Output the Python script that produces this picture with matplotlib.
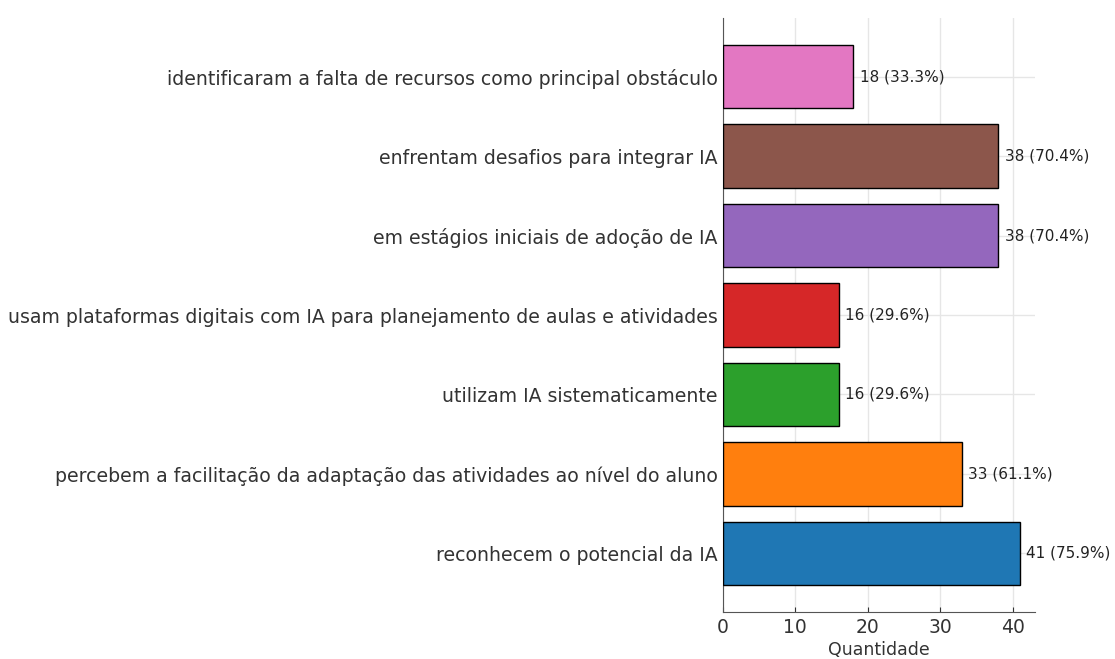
import matplotlib.pyplot as plt
import numpy as np

# Data
categorias = [
    "reconhecem o potencial da IA",
    "percebem a facilitação da adaptação das atividades ao nível do aluno",
    "utilizam IA sistematicamente",
    "usam plataformas digitais com IA para planejamento de aulas e atividades",
    "em estágios iniciais de adoção de IA",
    "enfrentam desafios para integrar IA",
    "identificaram a falta de recursos como principal obstáculo",
]
quantidades = [41, 33, 16, 16, 38, 38, 18]
percentuais = [75.9, 61.1, 29.6, 29.6, 70.4, 70.4, 33.3]
cores = ["#1f77b4", "#ff7f0e", "#2ca02c", "#d62728", "#9467bd", "#8c564b", "#e377c2"]

fig = plt.figure(figsize=(11.15, 6.59), dpi=100)
ax = fig.add_axes([0.648, 0.071, 0.28, 0.902])

y = np.arange(len(categorias))
ax.barh(y, quantidades, color=cores, edgecolor="black", linewidth=1, height=0.8, zorder=3)

for yi, q, p in zip(y, quantidades, percentuais):
    ax.text(q + 0.9, yi, f"{q} ({p}%)", va="center", ha="left", fontsize=11, color="#222222")

ax.set_yticks(y)
ax.set_yticklabels(categorias, fontsize=13.6, color="#333333")
ax.set_xticks([0, 10, 20, 30, 40])
ax.tick_params(axis="x", labelsize=13.5, colors="#333333", direction="in", pad=4)
ax.tick_params(axis="y", direction="in")
ax.set_xlabel("Quantidade", fontsize=12.5, color="#333333", labelpad=3)

ax.grid(True, color="#e6e6e6", linewidth=1, zorder=0)
ax.spines["top"].set_visible(False)
ax.spines["right"].set_visible(False)
ax.spines["left"].set_color("#555555")
ax.spines["bottom"].set_color("#555555")

plt.savefig("out.png", dpi=100)
